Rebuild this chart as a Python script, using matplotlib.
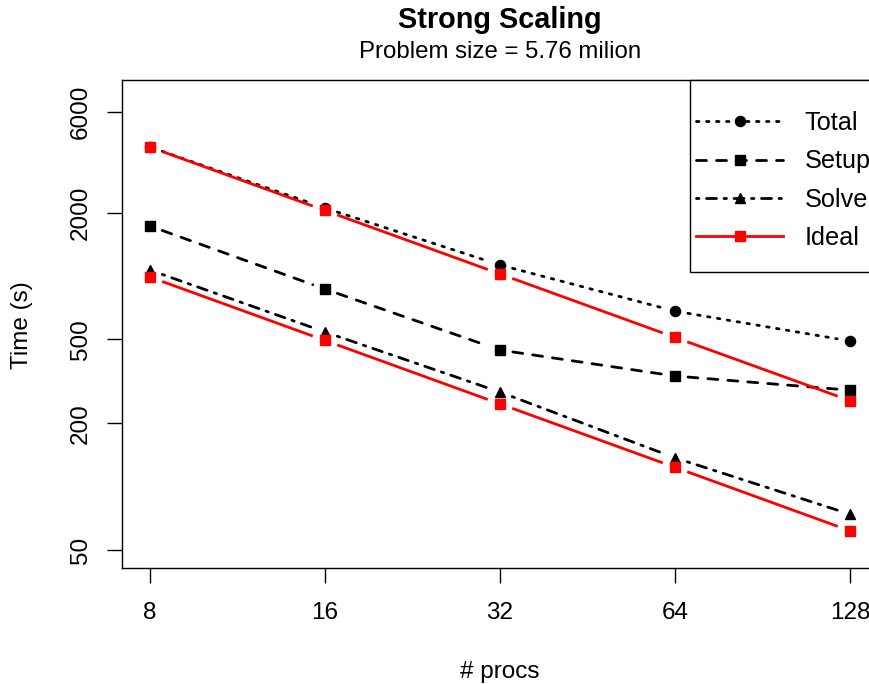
import matplotlib
matplotlib.use("Agg")
import numpy as np
import matplotlib.pyplot as plt
from matplotlib.lines import Line2D
from matplotlib.patches import Rectangle

plt.rcParams['font.family'] = ['Liberation Sans', 'DejaVu Sans']

procs = [8, 16, 32, 64, 128]
total = [4090, 2100, 1127, 681, 491]
setup = [1725, 866, 445, 335, 287]
solve = [1066, 542, 281, 137, 74]
ideal_total = [4090, 2045, 1022, 511, 256]
ideal_solve = [988, 494, 247, 123.5, 61.7]
yticks = [50, 200, 500, 2000, 6000]

W, H = 870, 684
fig = plt.figure(figsize=(W / 100, H / 100), dpi=100)
ax = fig.add_axes([122 / W, 1 - 568 / H, (878 - 122) / W, (568 - 80) / H])

ax.set_xscale('log', base=2)
ax.set_yscale('log')
ax.set_xlim(2 ** 2.84, 2 ** 7.16)
ax.set_ylim(41.1, 8511)

lw = 2.0
ms = 7.3
ls_total = (0, (0.9, 2.7))
ls_setup = (0, (3.6, 3.6))
ls_solve = (0, (0.9, 2.7, 3.6, 2.7))
red = '#ff0000'


def gapped(xs, ys, color, ls, marker, gap_px=13):
    """R type='b': points plus line segments that stop short of each point."""
    pts = ax.transData.transform(np.column_stack([xs, ys]))
    inv = ax.transData.inverted()
    for p0, p1 in zip(pts[:-1], pts[1:]):
        d = p1 - p0
        u = d / np.hypot(*d)
        seg = inv.transform(np.array([p0 + u * gap_px, p1 - u * gap_px]))
        ax.plot(seg[:, 0], seg[:, 1], color=color, linestyle=ls, lw=lw,
                dash_capstyle='round', solid_capstyle='butt')
    ax.plot(xs, ys, linestyle='none', marker=marker, ms=ms, color=color)


gapped(procs, total, 'black', ls_total, 'o')
gapped(procs, setup, 'black', ls_setup, 's')
gapped(procs, solve, 'black', ls_solve, '^')
gapped(procs, ideal_total, red, '-', 's')
gapped(procs, ideal_solve, red, '-', 's')

ax.set_xticks(procs)
ax.set_xticklabels([str(p) for p in procs])
ax.set_yticks(yticks)
ax.set_yticklabels([str(v) for v in yticks], rotation=90, va='center')
ax.minorticks_off()
ax.tick_params(axis='both', labelsize=17.5, length=10.5, width=1, direction='out')
ax.tick_params(axis='x', pad=14)
ax.tick_params(axis='y', pad=11)
for s in ax.spines.values():
    s.set_linewidth(1)

fig.text(500 / W, 1 - 20 / H, 'Strong Scaling', ha='center', va='center', fontsize=20.8, fontweight='bold')
fig.text(500 / W, 1 - 52 / H, 'Problem size = 5.76 milion', ha='center', va='center', fontsize=17.3)
fig.text(500 / W, 1 - 672 / H, '# procs', ha='center', va='center', fontsize=17.5)
fig.text(22 / W, 1 - 325 / H, 'Time (s)', ha='center', va='center', fontsize=17.5, rotation=90)

# legend frame
fig.patches.append(Rectangle((690 / W, 1 - 272 / H), (900 - 690) / W, (272 - 80) / H,
                             transform=fig.transFigure, facecolor='white', edgecolor='black',
                             lw=1, zorder=5))

handles = [
    Line2D([], [], color='black', linestyle=ls_total, lw=lw, marker='o', ms=ms, dash_capstyle='round'),
    Line2D([], [], color='black', linestyle=ls_setup, lw=lw, marker='s', ms=ms, dash_capstyle='round'),
    Line2D([], [], color='black', linestyle=ls_solve, lw=lw, marker='^', ms=ms, dash_capstyle='round'),
    Line2D([], [], color=red, linestyle='-', lw=lw, marker='s', ms=ms),
]
leg = fig.legend(handles, ['Total', 'Setup', 'Solve', 'Ideal'], loc='upper left',
                 bbox_to_anchor=(696 / W, 1 - 111 / H), bbox_transform=fig.transFigure,
                 borderaxespad=0, borderpad=0, fontsize=18.2,
                 handlelength=3.45, handletextpad=0.84, labelspacing=0.57,
                 frameon=False)
leg.set_zorder(6)

fig.savefig('out.png', dpi=100)
